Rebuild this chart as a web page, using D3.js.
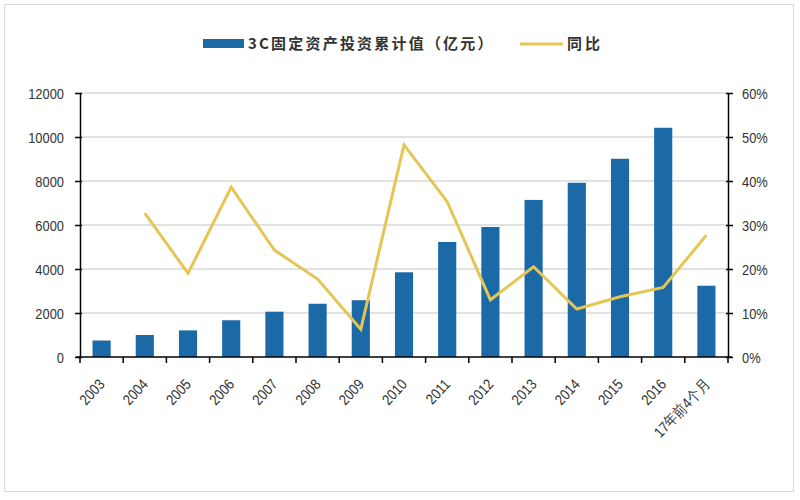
<!DOCTYPE html>
<html><head><meta charset="utf-8">
<script src="https://cdn.jsdelivr.net/npm/d3@7"></script>
<style>body{margin:0;background:#fff}svg{display:block}</style>
</head><body>
<svg id="chart" width="800" height="500"></svg>
<script>
const categories = ["2003","2004","2005","2006","2007","2008","2009","2010","2011","2012","2013","2014","2015","2016","17年前4个月"];
const investment = [750,1000,1210,1670,2060,2420,2580,3850,5230,5910,7140,7920,9010,10420,3240];
const yoy = [null,32.7,19.0,38.6,24.3,17.7,6.3,48.2,35.3,13.0,20.5,10.9,13.7,15.8,27.7];
const leftTicks = [0,2000,4000,6000,8000,10000,12000];
const rightTicks = [0,10,20,30,40,50,60];
const legendLabels = ["3C固定资产投资累计值（亿元）","同比"];

(function(){
const svg = d3.select("#chart");
const pL = 80, pR = 728, pT = 93, pB = 357;
const barColor = "#1b69a6", lineColor = "#e5c655";
const font = "'Liberation Sans', Arial, sans-serif";
const sx = 0.86;

svg.append("rect").attr("x",4.5).attr("y",4.5).attr("width",789).attr("height",487)
  .attr("fill","#fff").attr("stroke","#dcdcdc");

const x = d3.scaleBand().domain(categories).range([pL,pR]).paddingInner(0.58).paddingOuter(0.29);
const yL = d3.scaleLinear().domain([0,12000]).range([pB,pT]);
const yR = d3.scaleLinear().domain([0,60]).range([pB,pT]);

svg.append("g").selectAll("line").data(leftTicks.slice(1)).join("line")
  .attr("x1",pL).attr("x2",pR).attr("y1",d=>yL(d)).attr("y2",d=>yL(d))
  .attr("stroke","#d9d9d9").attr("stroke-width",1.5);

svg.append("g").selectAll("rect").data(categories).join("rect")
  .attr("x",d=>x(d)).attr("width",x.bandwidth())
  .attr("y",(d,i)=>yL(investment[i])).attr("height",(d,i)=>pB-yL(investment[i]))
  .attr("fill",barColor);

const pts = categories.map((c,i)=>({c,v:yoy[i]})).filter(d=>d.v!=null);
svg.append("path").datum(pts)
  .attr("d",d3.line().x(d=>x(d.c)+x.bandwidth()/2).y(d=>yR(d.v)))
  .attr("fill","none").attr("stroke",lineColor).attr("stroke-width",3).attr("stroke-linejoin","miter");

// left axis
const gL = svg.append("g").attr("transform",`translate(${pL},0)`)
  .call(d3.axisLeft(yL).tickValues(leftTicks).tickFormat("").tickSize(0));
gL.select(".domain").attr("stroke","#000").attr("stroke-width",1.5);
gL.selectAll(".tick").append("line").attr("x1",-5).attr("x2",2).attr("stroke","#000").attr("stroke-width",1.5);
gL.selectAll(".tick").append("text").attr("transform",`translate(-16,0) scale(${sx},1)`)
  .attr("text-anchor","end").attr("dy","0.36em").attr("font-family",font).attr("font-size",15).attr("fill","#333")
  .text(d=>d3.format("d")(d));

// right axis
const gR = svg.append("g").attr("transform",`translate(${pR},0)`)
  .call(d3.axisRight(yR).tickValues(rightTicks).tickFormat("").tickSize(0));
gR.select(".domain").attr("stroke","#000").attr("stroke-width",1.5);
gR.selectAll(".tick").append("line").attr("x1",-2).attr("x2",5).attr("stroke","#000").attr("stroke-width",1.5);
gR.selectAll(".tick").append("text").attr("transform",`translate(14,0) scale(${sx},1)`)
  .attr("text-anchor","start").attr("dy","0.36em").attr("font-family",font).attr("font-size",15).attr("fill","#333")
  .text(d=>d+"%");

// bottom axis
const xTicks = d3.scaleLinear().domain([0,categories.length]).range([pL,pR]);
const gB = svg.append("g").attr("transform",`translate(0,${pB})`);
gB.append("line").attr("x1",pL-4).attr("x2",pR+4).attr("stroke","#000").attr("stroke-width",1.5);
gB.selectAll("line.t").data(d3.range(categories.length+1)).join("line").attr("class","t")
  .attr("x1",d=>xTicks(d)).attr("x2",d=>xTicks(d)).attr("y1",0).attr("y2",6)
  .attr("stroke","#000").attr("stroke-width",1.5);
gB.selectAll("text").data(categories).join("text")
  .attr("transform",d=>`translate(${x(d)+x.bandwidth()/2+4},${28}) rotate(-47) scale(${sx},1)`)
  .attr("text-anchor","end").attr("font-family",font).attr("font-size",15).attr("fill","#333")
  .text(d=>d);

const lg = svg.append("g");
lg.append("rect").attr("x",203).attr("y",39).attr("width",41).attr("height",9).attr("fill",barColor);
lg.append("text").attr("x",248).attr("y",49).attr("font-family","'Noto Sans CJK SC', sans-serif")
  .attr("font-size",15).attr("letter-spacing",2.2).attr("fill","#333").attr("font-weight","bold").text(legendLabels[0]);
lg.append("line").attr("x1",520).attr("x2",563).attr("y1",44).attr("y2",44).attr("stroke",lineColor).attr("stroke-width",3);
lg.append("text").attr("x",567).attr("y",49).attr("font-family","'Noto Sans CJK SC', sans-serif")
  .attr("font-size",15).attr("letter-spacing",3).attr("fill","#333").attr("font-weight","bold").text(legendLabels[1]);
})();
</script>
</body></html>
